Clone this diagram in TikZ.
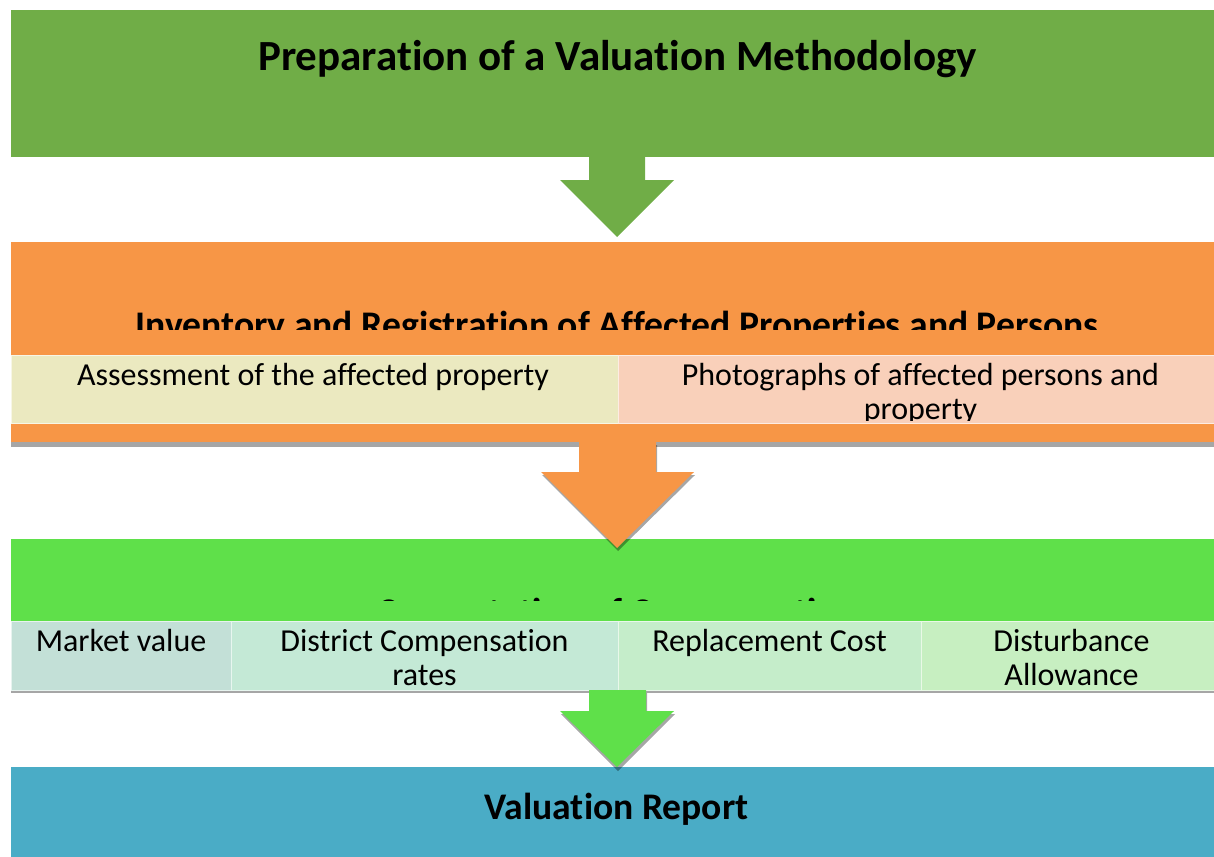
\documentclass[tikz,border=0pt]{standalone}
\usepackage{fontspec}
\setmainfont{Carlito}[Ligatures=NoCommon]
\definecolor{topgreen}{HTML}{70AD47}
\definecolor{orangeband}{HTML}{F79646}
\definecolor{greenband}{HTML}{5FE04A}
\definecolor{blueband}{HTML}{4AACC6}
\definecolor{assesscol}{HTML}{EBE9C0}
\definecolor{photocol}{HTML}{F9D0BA}
\definecolor{mvcol}{HTML}{C3E0D7}
\definecolor{dccol}{HTML}{C4E9D6}
\definecolor{rccol}{HTML}{C5EDCA}
\definecolor{dacol}{HTML}{C7EFC1}
\begin{document}
\begin{tikzpicture}[x=1pt,y=-1pt,
  band/.style={draw=none,inner sep=0pt,outer sep=0pt,anchor=north west,minimum width=1212pt},
  subbox/.style={draw=white!60!#1,line width=0.6pt,fill=#1,inner sep=0pt,outer sep=0pt,anchor=north west,minimum height=68pt},
  bigtext/.style={font=\fontsize{43}{50}\selectfont\bfseries,anchor=base,inner sep=0pt},
  midtext/.style={font=\fontsize{37.6}{44}\selectfont\bfseries,anchor=base,inner sep=0pt},
  subtext/.style={font=\fontsize{32}{34}\selectfont,anchor=base,inner sep=0pt},
  shade/.style={fill=black,opacity=0.35,draw=none}]
\useasboundingbox (0,0) rectangle (1214,856);
\clip (0,0) rectangle (1214,856);

% ---- band 1
\node[band,fill=topgreen,minimum height=147pt] (prep) at (11,10) {};
\node[bigtext] (preptxt) at (617.5,70.5) {Preparation of a Valuation Methodology};

% ---- band 2
\fill[black!35] (11,247) rectangle (1223,447);
\node[band,fill=orangeband,minimum height=200pt] (inv) at (11,242) {};
\begin{scope}
  \clip (0,0) rectangle (1214,329.5);
  \node[midtext,text depth=0pt] (invtxt) at (617,337) {Inventory and Registration of Affected Properties and Persons};
\end{scope}
\node[subbox=assesscol,minimum width=607pt] (assess) at (11,355) {};
\node[subbox=photocol,minimum width=605pt] (photo) at (618,355) {};
\node[subtext] (assesstxt) at (313,385.5) {Assessment of the affected property};
\begin{scope}
  \clip (618,355) rectangle (1223,420.5);
  \node[subtext] (phototxt1) at (920.5,385.5) {Photographs of affected persons and};
  \node[subtext] (phototxt2) at (920.5,419.5) {property};
\end{scope}

% ---- band 3
\fill[black!35] (11,544) rectangle (1223,693);
\node[band,fill=greenband,minimum height=151pt] (comp) at (11,539) {};
\begin{scope}
  \clip (0,0) rectangle (1214,600);
  \node[midtext,text depth=0pt] (comptxt) at (617,624) {Computation of Compensation};
\end{scope}
\node[subbox=mvcol,minimum width=220pt,minimum height=69pt] (mv) at (11,621) {};
\node[subbox=dccol,minimum width=387pt,minimum height=69pt] (dc) at (231,621) {};
\node[subbox=rccol,minimum width=303pt,minimum height=69pt] (rc) at (618,621) {};
\node[subbox=dacol,minimum width=302pt,minimum height=69pt] (da) at (921,621) {};
\node[subtext] (mvtxt) at (121,651.5) {Market value};
\node[subtext] (dctxt1) at (424.5,651.5) {District Compensation};
\node[subtext] (dctxt2) at (424.5,685.5) {rates};
\node[subtext] (rctxt) at (769.5,651.5) {Replacement Cost};
\node[subtext] (datxt1) at (1071.5,651.5) {Disturbance};
\node[subtext] (datxt2) at (1071.5,685.5) {Allowance};

% ---- band 4
\node[band,fill=blueband,minimum height=95pt] (report) at (11,767) {};
\node[midtext] (reporttxt) at (616.5,819.5) {Valuation Report};

% ---- block arrows
\fill[topgreen] (589,157) -- (645,157) -- (645,180) -- (674,180) -- (617,237) -- (560,180) -- (589,180) -- cycle;

\fill[shade] (580,445) -- (657,445) -- (657,475) -- (695,475) -- (618,551) -- (542,475) -- (580,475) -- cycle;
\fill[orangeband] (579,442) -- (656,442) -- (656,472) -- (694,472) -- (617,548) -- (541,472) -- (579,472) -- cycle;

\fill[shade] (590,693) -- (647,693) -- (647,714) -- (675,714) -- (618,771) -- (561,714) -- (590,714) -- cycle;
\fill[greenband] (589,690) -- (646,690) -- (646,711) -- (674,711) -- (617,767) -- (560,711) -- (589,711) -- cycle;
\end{tikzpicture}
\end{document}
